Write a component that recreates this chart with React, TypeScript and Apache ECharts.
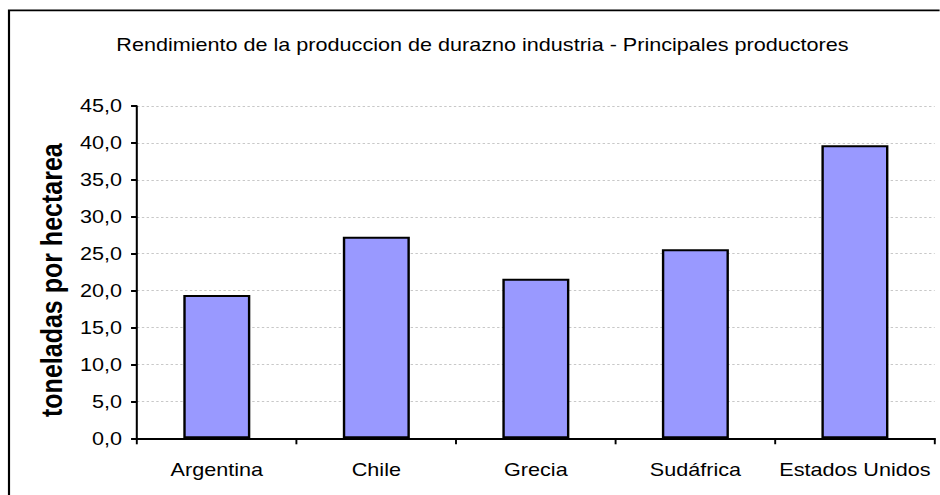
import React, { useEffect, useRef } from "react";
import * as echarts from "echarts";

const categories = ["Argentina", "Chile", "Grecia", "Sudáfrica", "Estados Unidos"];
const values = [19.4, 27.3, 21.6, 25.6, 39.7];
const yMin = 0;
const yMax = 45;
const yInterval = 5;
const titleText = "Rendimiento de la produccion de durazno industria - Principales productores";
const yAxisTitle = "toneladas por hectarea";

const SX = 1.2;
const FONT = "'Liberation Sans', Arial, sans-serif";

export default function App() {
  const ref = useRef<HTMLDivElement>(null);
  useEffect(() => {
    if (!ref.current) return;
    const chart = echarts.init(ref.current, undefined, { renderer: "svg" });
    chart.setOption({
      animation: false,
      backgroundColor: "#ffffff",
      title: {
        text: titleText,
        left: 397,
        textAlign: "center",
        top: 31,
        textStyle: { fontFamily: FONT, fontSize: 18, fontWeight: "normal", color: "#000" },
      },
      graphic: [
        {
          type: "rect",
          shape: { x: 7.5, y: 10.3, width: 2000, height: 2000 },
          style: { fill: "none", stroke: "#000", lineWidth: 1.8 },
          silent: true,
        },
      ],
      grid: { left: 114.2, right: 4.1, top: 106, bottom: 56.7 },
      xAxis: {
        type: "category",
        data: categories,
        axisLine: { lineStyle: { color: "#000", width: 2 } },
        axisTick: { show: true, length: 6, lineStyle: { color: "#000", width: 1.6 } },
        axisLabel: { interval: 0, fontFamily: FONT, fontSize: 18, color: "#000", margin: 22 },
      },
      yAxis: {
        type: "value",
        min: yMin,
        max: yMax,
        interval: yInterval,
        name: yAxisTitle,
        nameLocation: "middle",
        nameGap: 52,
        nameTextStyle: {
          fontFamily: FONT,
          fontSize: 25,
          fontWeight: "bold",
          color: "#000",
          padding: [0, 16, 0, 0],
        },
        axisLine: { show: true, lineStyle: { color: "#000", width: 1.7 } },
        axisTick: { show: true, length: 5, lineStyle: { color: "#000", width: 2 } },
        axisLabel: {
          fontFamily: FONT,
          fontSize: 18,
          color: "#000",
          margin: 12.5,
          formatter: (v: number) => v.toFixed(1).replace(".", ","),
        },
        splitLine: { show: true, lineStyle: { color: "#c8c8c8", width: 1, type: [2, 2] } },
      },
      series: [
        {
          type: "bar",
          data: values,
          barWidth: "42%",
          itemStyle: { color: "#9999ff", borderColor: "#000", borderWidth: 2 },
        },
      ],
    });
    return () => chart.dispose();
  }, []);
  return (
    <div style={{ position: "fixed", left: 0, top: 0, width: 940, height: 495, overflow: "hidden", background: "#fff" }}>
      <div
        ref={ref}
        style={{ width: 940 / SX, height: 495, transform: `scaleX(${SX})`, transformOrigin: "0 0" }}
      />
    </div>
  );
}
